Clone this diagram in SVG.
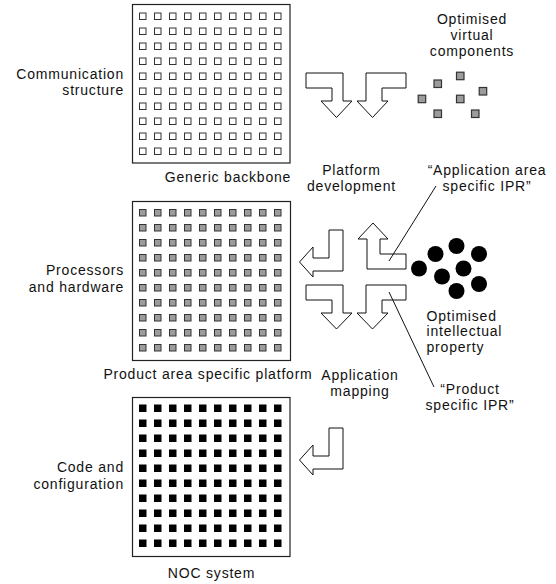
<svg xmlns="http://www.w3.org/2000/svg" xmlns:xlink="http://www.w3.org/1999/xlink" width="556" height="584" viewBox="0 0 556 584">
<style>
  text { font-family: "Liberation Sans", Arial, Helvetica, sans-serif; font-size: 14px; fill: #111; letter-spacing: 0.8px; }
  .end { text-anchor: end; }
  .mid { text-anchor: middle; }
  .box { fill: #fff; stroke: #222; stroke-width: 1.2; }
  .cw { fill: #fff; stroke: #333; stroke-width: 1; }
  .cg { fill: #9c9c9c; stroke: #333; stroke-width: 1; }
  .cb { fill: #000; stroke: #000; stroke-width: 1; }
  .arrow { fill: #fff; stroke: #111; stroke-width: 1; stroke-linejoin: miter; }
  .lead { stroke: #111; stroke-width: 1; fill: none; }
  .vc { fill: #9c9c9c; stroke: #333; stroke-width: 1.2; }
  .ip { fill: #000; }
</style>
<defs>
  <g id="row">
    <rect x="0.5" y="0.5" width="6.5" height="6.5"/>
    <rect x="15.5" y="0.5" width="6.5" height="6.5"/>
    <rect x="30.5" y="0.5" width="6.5" height="6.5"/>
    <rect x="45.5" y="0.5" width="6.5" height="6.5"/>
    <rect x="60.5" y="0.5" width="6.5" height="6.5"/>
    <rect x="75.5" y="0.5" width="6.5" height="6.5"/>
    <rect x="90.5" y="0.5" width="6.5" height="6.5"/>
    <rect x="105.5" y="0.5" width="6.5" height="6.5"/>
    <rect x="120.5" y="0.5" width="6.5" height="6.5"/>
    <rect x="135.5" y="0.5" width="6.5" height="6.5"/>
  </g>
  <g id="grid">
    <use xlink:href="#row" href="#row" y="0"/>
    <use xlink:href="#row" href="#row" y="15"/>
    <use xlink:href="#row" href="#row" y="30"/>
    <use xlink:href="#row" href="#row" y="45"/>
    <use xlink:href="#row" href="#row" y="60"/>
    <use xlink:href="#row" href="#row" y="75"/>
    <use xlink:href="#row" href="#row" y="90"/>
    <use xlink:href="#row" href="#row" y="105"/>
    <use xlink:href="#row" href="#row" y="120"/>
    <use xlink:href="#row" href="#row" y="135"/>
  </g>
</defs>

<g id="generic-backbone">
  <rect class="box" x="132.5" y="4.5" width="157.5" height="158.5"/>
  <use class="cw" xlink:href="#grid" href="#grid" transform="translate(139,12.5)"/>
  <text class="mid" x="228" y="182">Generic backbone</text>
</g>
<g id="communication-structure">
  <text class="end" x="124" y="78.5">Communication</text>
  <text class="end" x="124" y="95">structure</text>
</g>

<g id="product-platform">
  <rect class="box" x="132.5" y="201.5" width="158" height="159"/>
  <use class="cg" xlink:href="#grid" href="#grid" transform="translate(139,209)"/>
  <text class="mid" x="208" y="378.5">Product area specific platform</text>
</g>
<g id="processors-hardware">
  <text class="end" x="124" y="275">Processors</text>
  <text class="end" x="124" y="291.5">and hardware</text>
</g>

<g id="noc-system">
  <rect class="box" x="132.5" y="397.5" width="157.5" height="159"/>
  <use class="cb" xlink:href="#grid" href="#grid" transform="translate(139,404.5)"/>
  <text class="mid" x="211.5" y="578">NOC system</text>
</g>
<g id="code-configuration">
  <text class="end" x="124" y="472">Code and</text>
  <text class="end" x="124" y="488.5">configuration</text>
</g>

<g id="virtual-components">
  <rect class="vc" x="456.5" y="72.2" width="7.5" height="7.5"/>
  <rect class="vc" x="434" y="80" width="7.5" height="7.5"/>
  <rect class="vc" x="479.2" y="87.5" width="7.5" height="7.5"/>
  <rect class="vc" x="418.2" y="95.2" width="7.5" height="7.5"/>
  <rect class="vc" x="456.5" y="95.2" width="7.5" height="7.5"/>
  <rect class="vc" x="434" y="110" width="7.5" height="7.5"/>
  <rect class="vc" x="471.5" y="110" width="7.5" height="7.5"/>
  <text class="mid" x="472" y="24">Optimised</text>
  <text class="mid" x="472" y="40">virtual</text>
  <text class="mid" x="472" y="56">components</text>
</g>

<g id="intellectual-property">
  <circle class="ip" cx="419" cy="268.5" r="8"/>
  <circle class="ip" cx="435.5" cy="254" r="8"/>
  <circle class="ip" cx="456.5" cy="246" r="8"/>
  <circle class="ip" cx="479" cy="254" r="8"/>
  <circle class="ip" cx="463.5" cy="268.5" r="8"/>
  <circle class="ip" cx="442" cy="276.5" r="8"/>
  <circle class="ip" cx="479" cy="284" r="8"/>
  <circle class="ip" cx="456.5" cy="291" r="8"/>
  <text x="426.5" y="320.5">Optimised</text>
  <text x="426.5" y="336">intellectual</text>
  <text x="426.5" y="351.5">property</text>
</g>

<g id="platform-development">
  <text class="mid" x="351.5" y="175">Platform</text>
  <text class="mid" x="351.5" y="191">development</text>
</g>
<g id="application-area-ipr">
  <text class="mid" x="487" y="175">“Application area</text>
  <text class="mid" x="487" y="191">specific IPR”</text>
</g>
<g id="application-mapping">
  <text class="mid" x="360" y="380">Application</text>
  <text class="mid" x="360" y="395.5">mapping</text>
</g>
<g id="product-ipr">
  <text class="mid" x="470" y="394">“Product</text>
  <text class="mid" x="470" y="410">specific IPR”</text>
</g>

<g id="connectors">
  <polygon class="arrow" points="306,73 343,73 343,101 352,101 336.5,117.5 321,101 332,101 332,88 306,88"/>
  <polygon class="arrow" points="366,73 406,73 406,88 382,88 382,101 388,101 372.5,117.5 357,101 366,101"/>
  <polygon class="arrow" points="329,230 343,230 343,271 313,271 313,277 299.5,262 313,247 313,258 329,258"/>
  <polygon class="arrow" points="373,223 388,239 380,239 380,254 406,254 406,269 367,269 367,239 358,239"/>
  <polygon class="arrow" points="306,285 343,285 343,313 352,313 336.5,329 321,313 332,313 332,300 306,300"/>
  <polygon class="arrow" points="366,285 406,285 406,300 382,300 382,313 388,313 372.5,329 357,313 366,313"/>
  <polygon class="arrow" points="329,428 343,428 343,469 313,469 313,475 299.5,460 313,445 313,456 329,456"/>
  <line class="lead" x1="436" y1="186" x2="389" y2="261"/>
  <line class="lead" x1="389" y1="292" x2="434" y2="387"/>
</g>
</svg>
